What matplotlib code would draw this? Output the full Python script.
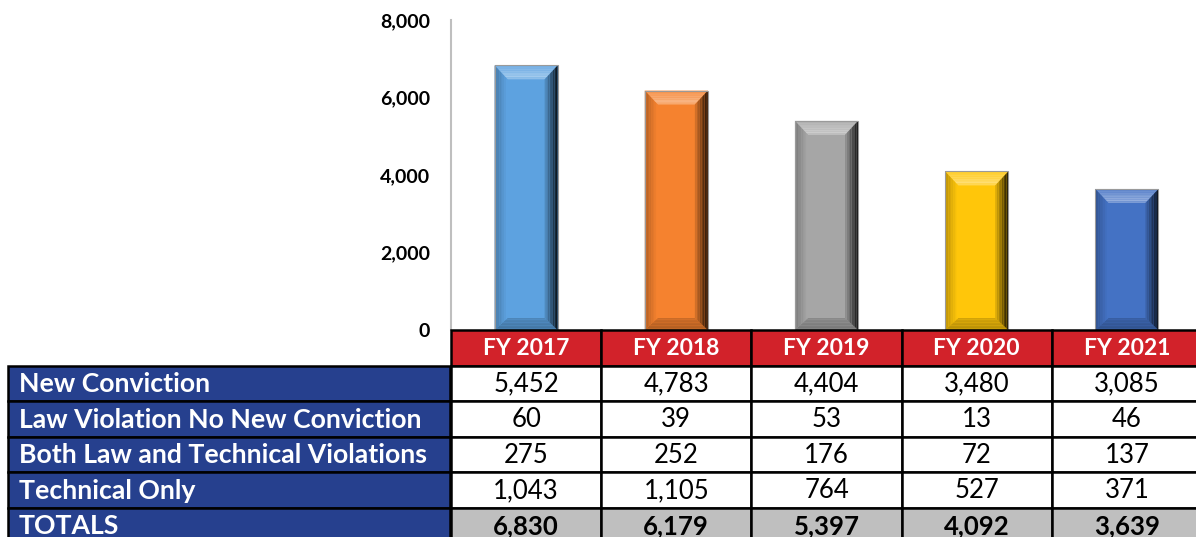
import matplotlib
matplotlib.use('Agg')
import matplotlib.pyplot as plt
from matplotlib.patches import Polygon, Rectangle
import matplotlib.colors as mcolors
import numpy as np

# ---------------- data ----------------
years = ['FY 2017', 'FY 2018', 'FY 2019', 'FY 2020', 'FY 2021']
totals = [6830, 6179, 5397, 4092, 3639]
row_labels = ['New Conviction', 'Law Violation No New Conviction',
              'Both Law and Technical Violations', 'Technical Only', 'TOTALS']
new_conviction = [5452, 4783, 4404, 3480, 3085]
law_violation_no_conv = [60, 39, 53, 13, 46]
both_law_technical = [275, 252, 176, 72, 137]
technical_only = [1043, 1105, 764, 527, 371]
yticks = [0, 2000, 4000, 6000, 8000]

bar_colors = ['#5DA2E0', '#F5822F', '#A6A6A6', '#FFC60A', '#4472C4']

plt.rcParams['font.family'] = ['Lato', 'DejaVu Sans']

W, H = 1196, 537
fig = plt.figure(figsize=(W / 100, H / 100), dpi=100)

col_left = 451
col_w = 150.2
y_zero = 330
y_top = 20

ax = fig.add_axes([col_left / W, 1 - y_zero / H, 5 * col_w / W, (y_zero - y_top) / H])
ax.set_xlim(-0.5, 4.5)
ax.set_ylim(0, 8000)
bars = ax.bar(range(len(years)), totals, width=0.42, color=bar_colors, zorder=2)

def shade(c, f):
    r, g, b = mcolors.to_rgb(c)
    if f >= 0:
        return (r + (1 - r) * f, g + (1 - g) * f, b + (1 - b) * f)
    f = -f
    return (r * (1 - f), g * (1 - f), b * (1 - f))

# bevel effect computed from the bar geometry
px_x = 1 / col_w
px_y = 8000 / (y_zero - y_top)
dx = 13 * px_x
dyt = 14 * px_y
dyb = 12 * px_y
n = 8
for b, c in zip(bars, bar_colors):
    x0 = b.get_x(); x1 = x0 + b.get_width(); h = b.get_height()
    for k in range(n):
        t0 = k / n; t1 = (k + 1) / n
        # top bevel: lighter toward inner edge
        ft = 0.12 + 0.35 * t1 if k < n - 1 else 0.3
        ax.add_patch(Polygon([(x0 + dx * t0, h - dyt * t0), (x1 - dx * t0, h - dyt * t0),
                              (x1 - dx * t1, h - dyt * t1), (x0 + dx * t1, h - dyt * t1)],
                             closed=True, facecolor=shade(c, ft), edgecolor='none', zorder=3))
        # bottom bevel: darker
        fb = -0.28 + 0.12 * t0
        ax.add_patch(Polygon([(x0 + dx * t0, dyb * t0), (x1 - dx * t0, dyb * t0),
                              (x1 - dx * t1, dyb * t1), (x0 + dx * t1, dyb * t1)],
                             closed=True, facecolor=shade(c, fb), edgecolor='none', zorder=3))
        # left bevel
        fl = -0.3 + 0.3 * t1
        ax.add_patch(Polygon([(x0 + dx * t0, h - dyt * t0), (x0 + dx * t1, h - dyt * t1),
                              (x0 + dx * t1, dyb * t1), (x0 + dx * t0, dyb * t0)],
                             closed=True, facecolor=shade(c, fl), edgecolor='none', zorder=3))
        # right bevel: very dark toward outer edge
        fr = -0.85 + 0.8 * t0
        ax.add_patch(Polygon([(x1 - dx * t0, h - dyt * t0), (x1 - dx * t1, h - dyt * t1),
                              (x1 - dx * t1, dyb * t1), (x1 - dx * t0, dyb * t0)],
                             closed=True, facecolor=shade(c, fr), edgecolor='none', zorder=3))
    ax.add_patch(Rectangle((x0, 0), x1 - x0, h, facecolor='none',
                           edgecolor='#9A9A9A', linewidth=0.8, zorder=4))

ax.set_yticks(yticks)
ax.set_yticklabels([f'{v:,}' for v in yticks], fontsize=14, fontweight='bold')
ax.tick_params(axis='y', length=0, pad=15)
ax.set_xticks([])
for s in ['top', 'right', 'bottom']:
    ax.spines[s].set_visible(False)
ax.spines['left'].set_color('#BFBFBF')
ax.spines['left'].set_linewidth(1.5)

# ---------------- table ----------------
axt = fig.add_axes([0, 0, 1, 1])
axt.set_xlim(0, W)
axt.set_ylim(H, 0)
axt.axis('off')
axt.patch.set_alpha(0)

row_h = 35.5
lw = 1.8
blue = '#26408E'
red = '#D2222A'
gray = '#BFBFBF'

# header
for j, yr in enumerate(years):
    x = col_left + j * col_w
    axt.add_patch(Rectangle((x, y_zero), col_w, row_h, facecolor=red, edgecolor='black', linewidth=lw))
    axt.text(x + col_w / 2, y_zero + row_h / 2 + 1, yr, color='white', fontsize=16.5,
             fontweight='bold', ha='center', va='center')

data_rows = [new_conviction, law_violation_no_conv, both_law_technical, technical_only, totals]
for i, (lab, vals) in enumerate(zip(row_labels, data_rows)):
    y = y_zero + (i + 1) * row_h
    is_tot = (i == len(data_rows) - 1)
    axt.add_patch(Rectangle((8, y), col_left - 9, row_h, facecolor=blue, edgecolor='black', linewidth=lw))
    axt.text(19, y + row_h / 2 + 1, lab, color='white', fontsize=19.2, fontweight='bold',
             ha='left', va='center')
    for j, v in enumerate(vals):
        x = col_left + j * col_w
        axt.add_patch(Rectangle((x, y), col_w, row_h, facecolor=gray if is_tot else 'white',
                                edgecolor='black', linewidth=lw))
        axt.text(x + col_w / 2, y + row_h / 2 + 1, f'{v:,}', color='black', fontsize=18.5,
                 fontweight='bold' if is_tot else 'normal', ha='center', va='center')

fig.savefig('out.png', dpi=100)
